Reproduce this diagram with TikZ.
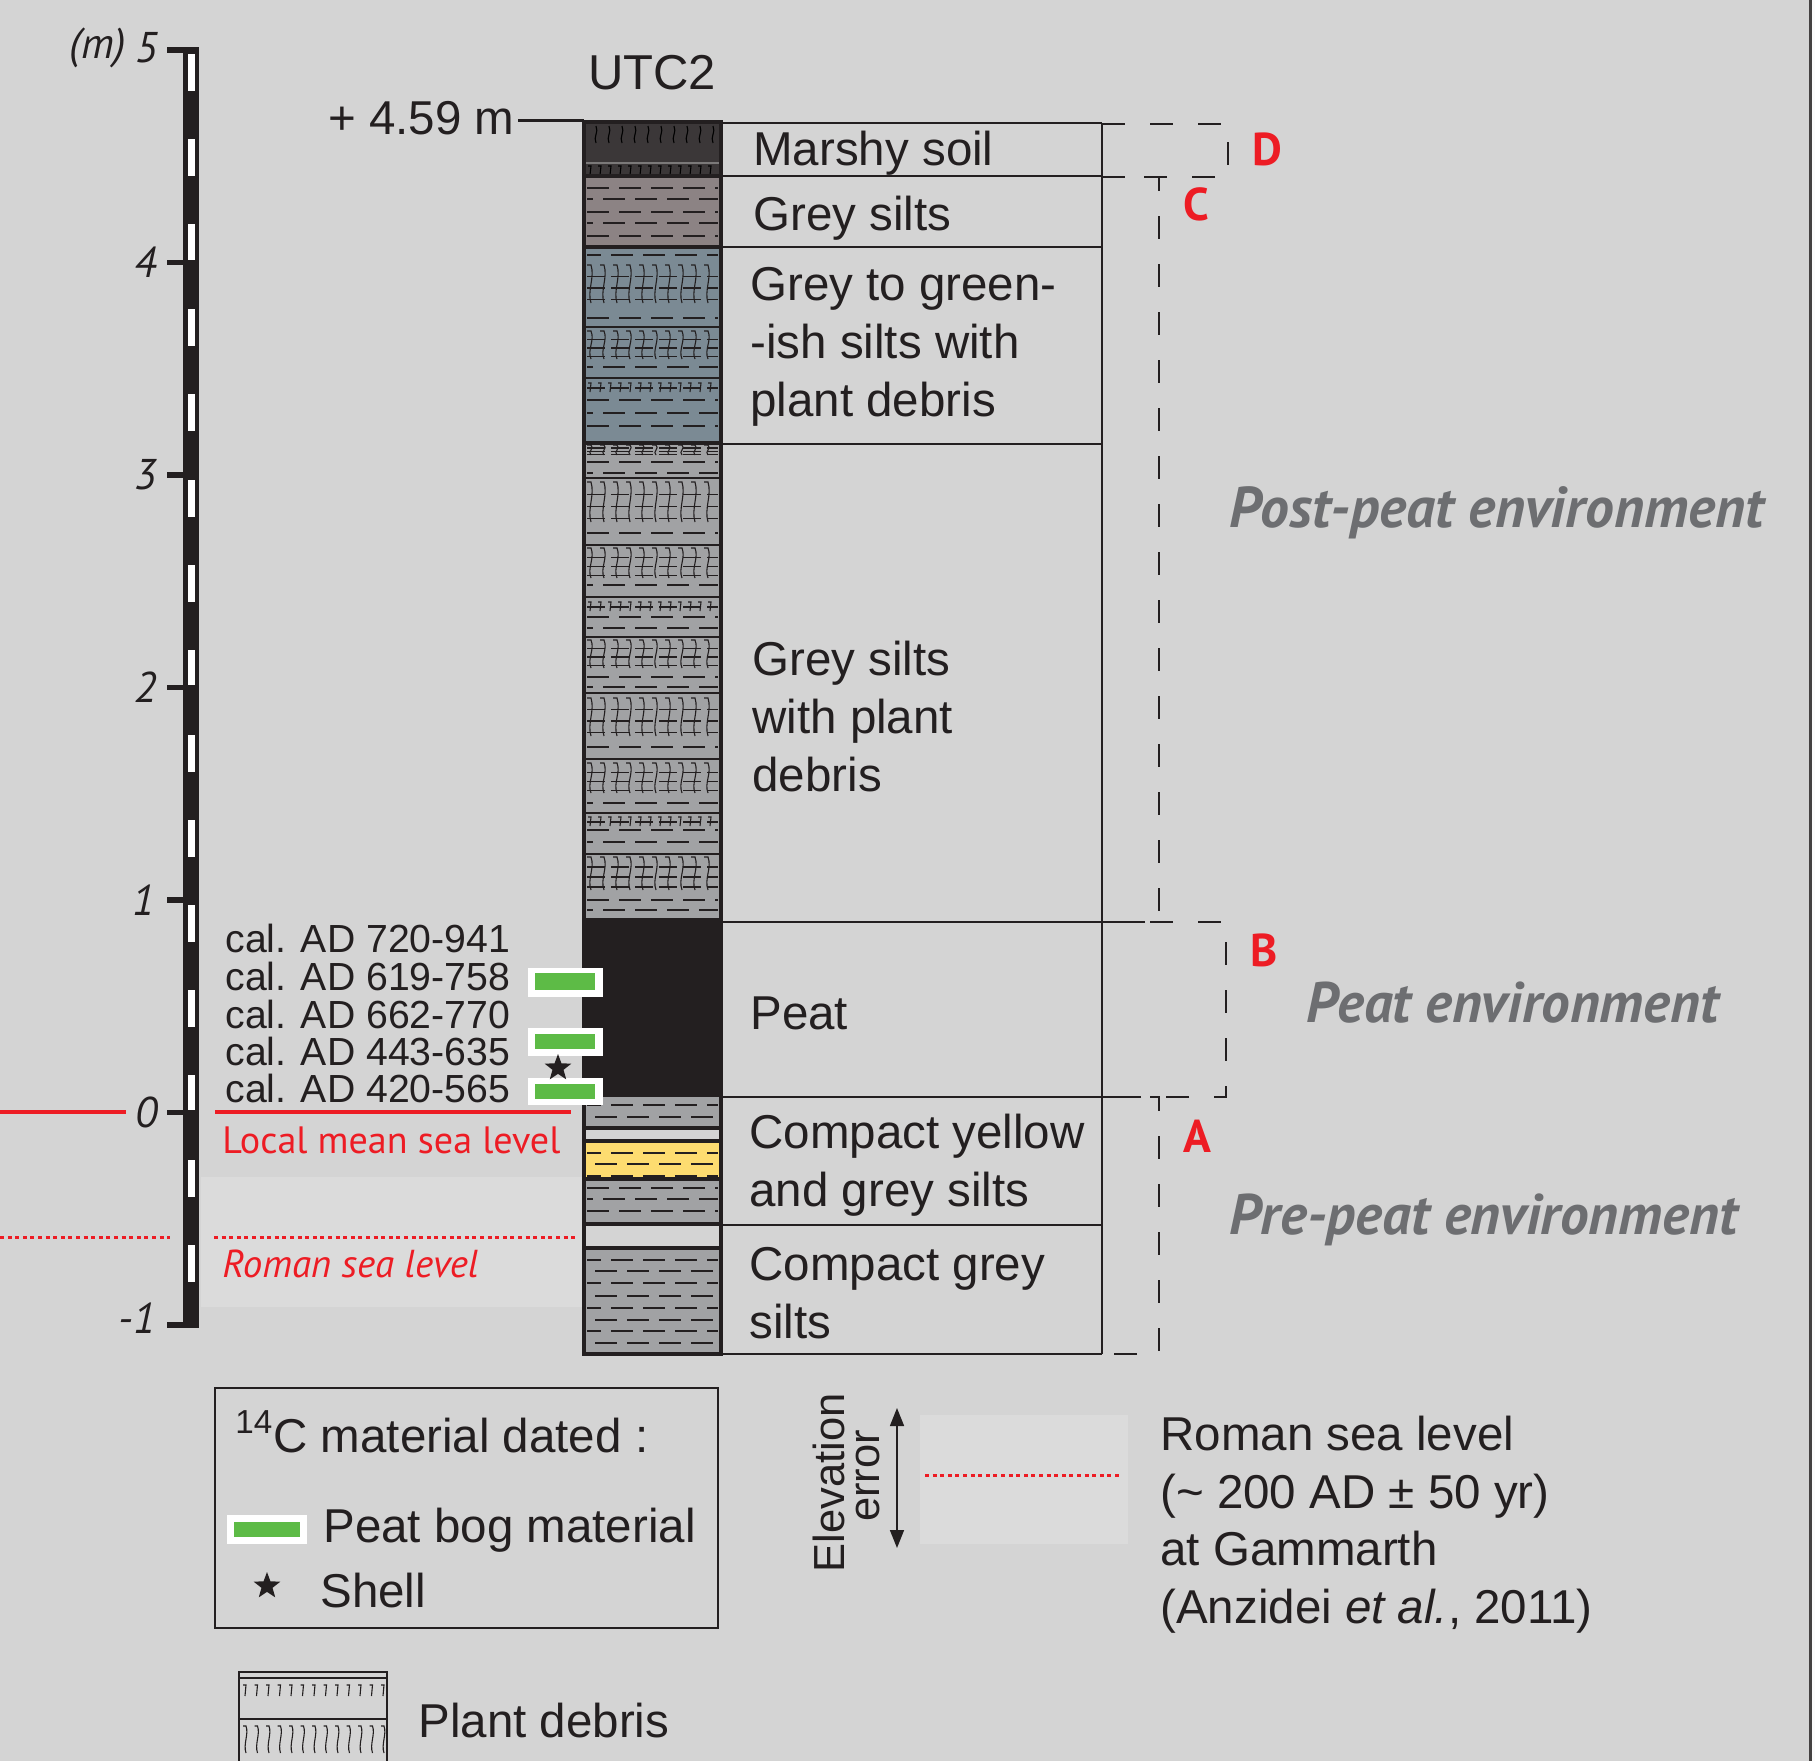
\documentclass[tikz,border=0pt]{standalone}
\usepackage{fontspec}
\setmainfont{Liberation Sans}
\newfontfamily\myr{PT Sans}
\usetikzlibrary{arrows.meta,shapes.geometric}
\definecolor{bg}{HTML}{D4D4D4}
\definecolor{lightbg}{HTML}{DBDBDB}
\definecolor{ink}{HTML}{231F20}
\definecolor{marsh}{HTML}{3B3738}
\definecolor{mauve}{HTML}{8C8384}
\definecolor{bluegrey}{HTML}{7B8A94}
\definecolor{siltgrey}{HTML}{A1A2A4}
\definecolor{yel}{HTML}{FDDC70}
\definecolor{grn}{HTML}{5DBB46}
\definecolor{redc}{HTML}{ED1C24}
\definecolor{envgrey}{HTML}{6D6E71}
\tikzset{
  dashln/.style={draw=ink,line width=0.8pt,dash pattern=on 11pt off 5pt},
  sepln/.style={draw=ink,line width=0.6pt},
  symln/.style={draw=ink,line width=0.55pt},
  tabln/.style={draw=ink,line width=1pt},
  brk/.style={draw=ink,line width=1pt,dash pattern=on 11.5pt off 12.5pt},
  tabtxt/.style={anchor=base west,inner sep=0pt,text=ink,font=\fontsize{23.75pt}{29pt}\selectfont},
  datetxt/.style={anchor=base west,inner sep=0pt,text=ink,font=\fontsize{19.6pt}{24pt}\selectfont},
  scaletxt/.style={anchor=east,inner sep=0pt,text=ink,font=\myr\itshape\fontsize{21.5pt}{26pt}\selectfont},
  lettxt/.style={anchor=center,inner sep=0pt,text=redc,font=\myr\bfseries\fontsize{23pt}{28pt}\selectfont},
  envtxt/.style={anchor=base west,inner sep=0pt,text=envgrey},
  redtxt/.style={anchor=base west,inner sep=0pt,text=redc},
  starmark/.style={star,star points=5,star point ratio=2.4,fill=ink,draw=none,minimum size=14pt,inner sep=0pt},
}
\newcommand\dashrow[2]{\draw[dashln,dash phase=#2] (587,#1) -- (718,#1);}
\newcommand\sepline[1]{\draw[sepln] (586,#1) -- (719,#1);}
\newcommand\hatchblk[2]{%
  \foreach \xx in {591,604,...,716}{%
    \draw[symln] ({\xx-4},#1) -- (\xx,#1) .. controls ({\xx+4},{#1+#2/3}) and ({\xx-4},{#1+2*#2/3}) .. (\xx,{#1+#2});
  }%
  \foreach \kk in {1,2,3}{%
    \draw[symln,dash pattern=on 9pt off 3pt] (587,{#1+\kk*#2/3.3}) -- (718,{#1+\kk*#2/3.3});
  }%
}
\newcommand\sevenrow[1]{%
  \foreach \xx in {591,601,...,716}{%
    \draw[symln] ({\xx-3},#1) -- (\xx,#1) -- ({\xx-1},{#1+9});
  }%
  \draw[symln,dash pattern=on 9pt off 3pt] (587,{#1+5}) -- (718,{#1+5});
}
\begin{document}
\begin{tikzpicture}[x=0.5pt,y=-0.5pt]
\useasboundingbox (0,0) rectangle (1815,1761);
\fill[bg] (0,0) rectangle (1815,1761);
\fill[white!90!bg] (1812,0) rectangle (1815,1761);
\draw[line width=1.5pt,draw=ink!85] (1810,0) -- (1810,1761);

% ---------------- scale bar
\fill[ink] (183,47) rectangle (199,1327);
\foreach \k in {0,...,14}{\fill[white] (188,{54+85.1*\k}) rectangle (195,{91+85.1*\k});}
\foreach \yy in {50,262.5,475,687.5,900,1112.5,1325}{\draw[ink,line width=2.6pt] (167,\yy) -- (199,\yy);}
\node[scaletxt] (l5) at (158,48) {5};
\node[scaletxt] (lm) at (126,48) {(m)};
\node[scaletxt] (l4) at (157,262) {4};
\node[scaletxt] (l3) at (157,475) {3};
\node[scaletxt] (l2) at (157,687) {2};
\node[scaletxt] (l1) at (155,900) {1};
\node[scaletxt] (l0) at (158,1112) {0};
\node[scaletxt] (lm1) at (156,1318) {-1};

% ---------------- sea levels
\fill[lightbg] (201,1177) rectangle (582,1307);
\coordinate (msl0) at (0,1112);
\coordinate (msl1) at (126,1112);
\coordinate (msl2) at (215,1112);
\coordinate (msl3) at (571,1112);
\draw[redc,line width=1.75pt] (msl0) -- (msl1);
\draw[redc,line width=1.75pt] (msl2) -- (msl3);
\coordinate (rsl0) at (0,1237);
\coordinate (rsl1) at (170,1237);
\coordinate (rsl2) at (214,1237);
\coordinate (rsl3) at (576,1237);
\draw[redc,line width=1.5pt,dash pattern=on 2pt off 1.8pt] (rsl0) -- (rsl1);
\draw[redc,line width=1.5pt,dash pattern=on 2pt off 1.8pt] (rsl2) -- (rsl3);
\node[redtxt] (lmsl) at (222,1153) {\resizebox{169pt}{!}{\myr Local mean sea level}};
\node[redtxt] (lrsl) at (222,1277) {\resizebox{128pt}{!}{\myr\itshape Roman sea level}};

% ---------------- column fills
\fill[marsh] (586,122) rectangle (719,176);
\fill[mauve] (586,176) rectangle (719,247);
\fill[bluegrey] (586,247) rectangle (719,443);
\fill[siltgrey] (586,443) rectangle (719,918);
\fill[ink] (586,918) rectangle (719,1097);
\fill[siltgrey] (586,1097) rectangle (719,1128);
\fill[bg] (586,1128) rectangle (719,1141);
\fill[yel] (586,1141) rectangle (719,1179);
\fill[siltgrey] (586,1179) rectangle (719,1224);
\fill[bg] (586,1224) rectangle (719,1248);
\fill[siltgrey] (586,1248) rectangle (719,1353);

\begin{scope}
\clip (586,122) rectangle (719,1353);
% marshy soil
\foreach \xx in {596,609,...,716}{\draw[line width=0.55pt,draw=black] (\xx,126) .. controls ({\xx+3},132) and ({\xx-3},137) .. (\xx,143);}
\draw[line width=0.6pt,draw=ink!60] (586,163) -- (719,163);
\foreach \xx in {591,601,...,716}{\draw[line width=0.55pt,draw=black] ({\xx-3},166) -- (\xx,166) -- ({\xx-1},175);}
% grey silts (mauve)
\dashrow{188}{0pt}\dashrow{199}{8pt}\dashrow{212}{0pt}\dashrow{223}{8pt}\dashrow{236}{0pt}
% blue grey
\dashrow{255}{4pt}
\hatchblk{265}{38}
\dashrow{318}{0pt}
\sepline{327}
\hatchblk{331}{28}
\dashrow{367}{8pt}
\sepline{378}
\sevenrow{383}
\dashrow{400}{0pt}\dashrow{413}{8pt}\dashrow{426}{0pt}
% grey with plant debris
\hatchblk{445}{10}
\dashrow{462}{0pt}\dashrow{473}{8pt}
\sepline{478}
\hatchblk{482}{40}
\dashrow{533}{0pt}
\sepline{545}
\hatchblk{548}{30}
\dashrow{585}{8pt}
\sepline{597}
\sevenrow{602}
\dashrow{617}{0pt}\dashrow{628}{8pt}
\sepline{637}
\hatchblk{640}{28}
\dashrow{677}{0pt}\dashrow{687}{8pt}
\sepline{693}
\hatchblk{698}{38}
\dashrow{747}{0pt}
\sepline{759}
\hatchblk{763}{30}
\dashrow{803}{8pt}
\sepline{813}
\sevenrow{817}
\dashrow{830}{0pt}\dashrow{842}{8pt}
\sepline{854}
\hatchblk{857}{33}
\dashrow{900}{0pt}\dashrow{910}{8pt}
% compact layers
\dashrow{1105}{4pt}\dashrow{1117}{12pt}
\dashrow{1153}{4pt}\dashrow{1164}{12pt}\dashrow{1176}{4pt}
\dashrow{1188}{0pt}\dashrow{1199}{8pt}\dashrow{1211}{0pt}
\dashrow{1260}{4pt}\dashrow{1271}{12pt}\dashrow{1283}{4pt}\dashrow{1296}{12pt}
\dashrow{1308}{4pt}\dashrow{1320}{12pt}\dashrow{1331}{4pt}\dashrow{1343}{12pt}
\end{scope}
% boundaries
\foreach \yy in {176,247,443,1128,1141,1179,1224,1248}{\draw[ink,line width=2pt] (586,\yy) -- (719,\yy);}
\draw[ink,line width=2pt] (584,122) rectangle (720.5,1354);

% top marker
\coordinate (topL) at (518,120);
\coordinate (topR) at (584,120);
\draw[ink,line width=1.5pt] (topL) -- (topR);
\node[anchor=base east,inner sep=0pt,text=ink,font=\fontsize{23.75pt}{29pt}\selectfont] (elev) at (515,134) {+ 4.59 m};
\node[anchor=base,inner sep=0pt,text=ink,font=\fontsize{24.5pt}{30pt}\selectfont] (utc) at (652,89) {UTC2};

% ---------------- table
\foreach \yy in {123,176,247,444,922,1097,1225,1354}{\draw[tabln] (722,\yy) -- (1102,\yy);}
\draw[tabln] (1102,123) -- (1102,1354);
\node[tabtxt] (t1) at (753,165) {Marshy soil};
\node[tabtxt] (t2) at (753,230) {Grey silts};
\node[tabtxt] (t3a) at (750,300) {Grey to green-};
\node[tabtxt] (t3b) at (750,358) {-ish silts with};
\node[tabtxt] (t3c) at (750,416) {plant debris};
\node[tabtxt] (t4a) at (752,675) {Grey silts};
\node[tabtxt] (t4b) at (752,733) {with plant};
\node[tabtxt] (t4c) at (752,791) {debris};
\node[tabtxt] (t5) at (750,1029) {Peat};
\node[tabtxt] (t6a) at (749,1148) {Compact yellow};
\node[tabtxt] (t6b) at (749,1206) {and grey silts};
\node[tabtxt] (t7a) at (749,1280) {Compact grey};
\node[tabtxt] (t7b) at (749,1338) {silts};

% ---------------- brackets
\draw[brk] (1102,124) -- (1228,124) -- (1228,177) -- (1102,177);
\draw[brk] (1102,177) -- (1159,177) -- (1159,922) -- (1102,922);
\draw[brk] (1102,922) -- (1226,922) -- (1226,1097) -- (1102,1097);
\draw[brk] (1102,1097) -- (1159,1097) -- (1159,1354) -- (1102,1354);
\node[lettxt] (ld) at (1267,149) {D};
\node[lettxt] (lc) at (1196,204) {C};
\node[lettxt] (lb) at (1264,950) {B};
\node[lettxt] (la) at (1197,1136) {A};
\node[envtxt] (e1) at (1229,527) {\resizebox{267pt}{!}{\myr\bfseries\itshape Post-peat environment}};
\node[envtxt] (e2) at (1306,1022) {\resizebox{206pt}{!}{\myr\bfseries\itshape Peat environment}};
\node[envtxt] (e3) at (1229,1234) {\resizebox{254pt}{!}{\myr\bfseries\itshape Pre-peat environment}};

% ---------------- dates
\node[datetxt] (d1) at (225,952) {cal. AD 720-941};
\node[datetxt] (d2) at (225,990) {cal. AD 619-758};
\node[datetxt] (d3) at (225,1028) {cal. AD 662-770};
\node[datetxt] (d4) at (225,1065) {cal. AD 443-635};
\node[datetxt] (d5) at (225,1102) {cal. AD 420-565};
\fill[white] (528,968) rectangle (603,997);
\fill[grn] (535,973) rectangle (595,990);
\fill[white] (528,1028) rectangle (603,1056);
\fill[grn] (535,1034) rectangle (595,1049);
\fill[white] (528,1078) rectangle (603,1105);
\fill[grn] (535,1084) rectangle (595,1099);
\node[starmark] (st) at (558,1068) {};

% ---------------- legend box
\draw[ink,line width=1pt] (215,1388) rectangle (718,1628);
\node[tabtxt] (lg1) at (235,1452) {\textsuperscript{14}C material dated :};
\fill[white] (227,1515) rectangle (307,1544);
\fill[grn] (234,1522) rectangle (300,1537);
\node[tabtxt] (lg2) at (323,1542) {Peat bog material};
\node[starmark] (st2) at (267,1586) {};
\node[tabtxt] (lg3) at (320,1607) {Shell};

% plant debris legend
\draw[ink,line width=1pt] (239,1761) -- (239,1672) -- (387,1672) -- (387,1761);
\draw[ink,line width=0.6pt] (239,1678) -- (387,1678);
\draw[ink,line width=0.6pt] (239,1719) -- (387,1719);
\foreach \xx in {246,257.5,...,385}{\draw[symln] ({\xx-3},1685) -- (\xx,1685) -- ({\xx-1},1696);}
\foreach \xx in {246,257.5,...,385}{\draw[symln] ({\xx-3},1726) -- (\xx,1726) .. controls ({\xx+3},1734) and ({\xx-3},1744) .. (\xx,1753);}
\node[tabtxt] (lg4) at (418,1737) {Plant debris};

% ---------------- elevation error legend
\node[anchor=center,inner sep=0pt,rotate=90,text=ink,font=\fontsize{21.75pt}{26pt}\selectfont] (elv) at (829,1483) {Elevation};
\node[anchor=center,inner sep=0pt,rotate=90,text=ink,font=\fontsize{21.75pt}{26pt}\selectfont] (err) at (868,1476) {error};
\coordinate (ea1) at (897,1408);
\coordinate (ea2) at (897,1548);
\draw[ink,line width=0.8pt,{Triangle[length=9pt,width=7pt]}-{Triangle[length=9pt,width=7pt]}] (ea1) -- (ea2);
\fill[lightbg] (920,1415) rectangle (1128,1544);
\coordinate (lr0) at (925,1475);
\coordinate (lr1) at (1120,1475);
\draw[redc,line width=1.5pt,dash pattern=on 2pt off 1.8pt] (lr0) -- (lr1);
\node[tabtxt] (r1) at (1160,1450) {Roman sea level};
\node[tabtxt] (r2) at (1160,1508) {(\textasciitilde\ 200 AD ± 50 yr)};
\node[tabtxt] (r3) at (1160,1565) {at Gammarth};
\node[tabtxt] (r4) at (1160,1623) {(Anzidei \textit{et al.}, 2011)};
\end{tikzpicture}
\end{document}
